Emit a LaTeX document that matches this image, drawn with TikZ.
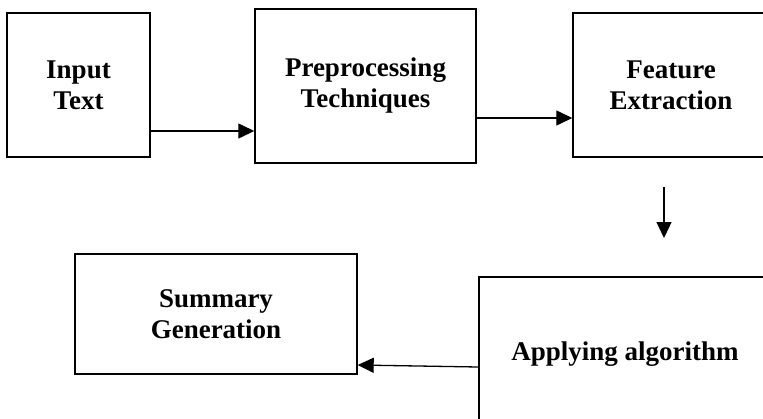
\documentclass[tikz,border=0pt]{standalone}
\usepackage{fontspec}
\setmainfont{Liberation Serif}
\usetikzlibrary{arrows.meta}

\tikzset{
    stagebox/.style={draw, line width=1.4pt, inner sep=0pt, align=center,
        font=\fontsize{27}{31}\selectfont\bfseries},
    flow/.style={line width=1.3pt, -{Triangle[length=16pt,width=15pt]}}
}

\begin{document}
\begin{tikzpicture}[x=1pt, y=-1pt]
    % Page frame, boxes on the right run off the edge
    \useasboundingbox (0,0) rectangle (763,418);
    \clip (0,0) rectangle (763,418);

    % Draw the stages
    \node[stagebox, minimum width=143pt, minimum height=144pt] (input) at (78.5,85) {Input\\Text};
    \node[stagebox, minimum width=221pt, minimum height=154pt] (prep) at (365.5,86) {Preprocessing\\Techniques};
    \node[stagebox, minimum width=196pt, minimum height=144pt] (feat) at (671,85) {Feature\\Extraction};
    \node[stagebox, minimum width=282pt, minimum height=120pt] (summary) at (216,314) {Summary\\Generation};
    \node[stagebox, minimum width=292pt, minimum height=154pt] (apply) at (625,354) {Applying algorithm};

    % Loose arrow below the feature box
    \coordinate (down top) at (664,187);
    \coordinate (down end) at (664,238);

    % Draw the arrows
    \draw[flow] ([yshift=-46pt]input.east) -- ([yshift=-46pt]input.east -| prep.west);
    \draw[flow] ([yshift=-32pt]prep.east) -- ([yshift=-32pt]prep.east -| feat.west);
    \draw[flow] (down top) -- (down end);
    \draw[flow] ([yshift=-13pt]apply.west) -- ([yshift=-51pt]summary.east);
\end{tikzpicture}
\end{document}
